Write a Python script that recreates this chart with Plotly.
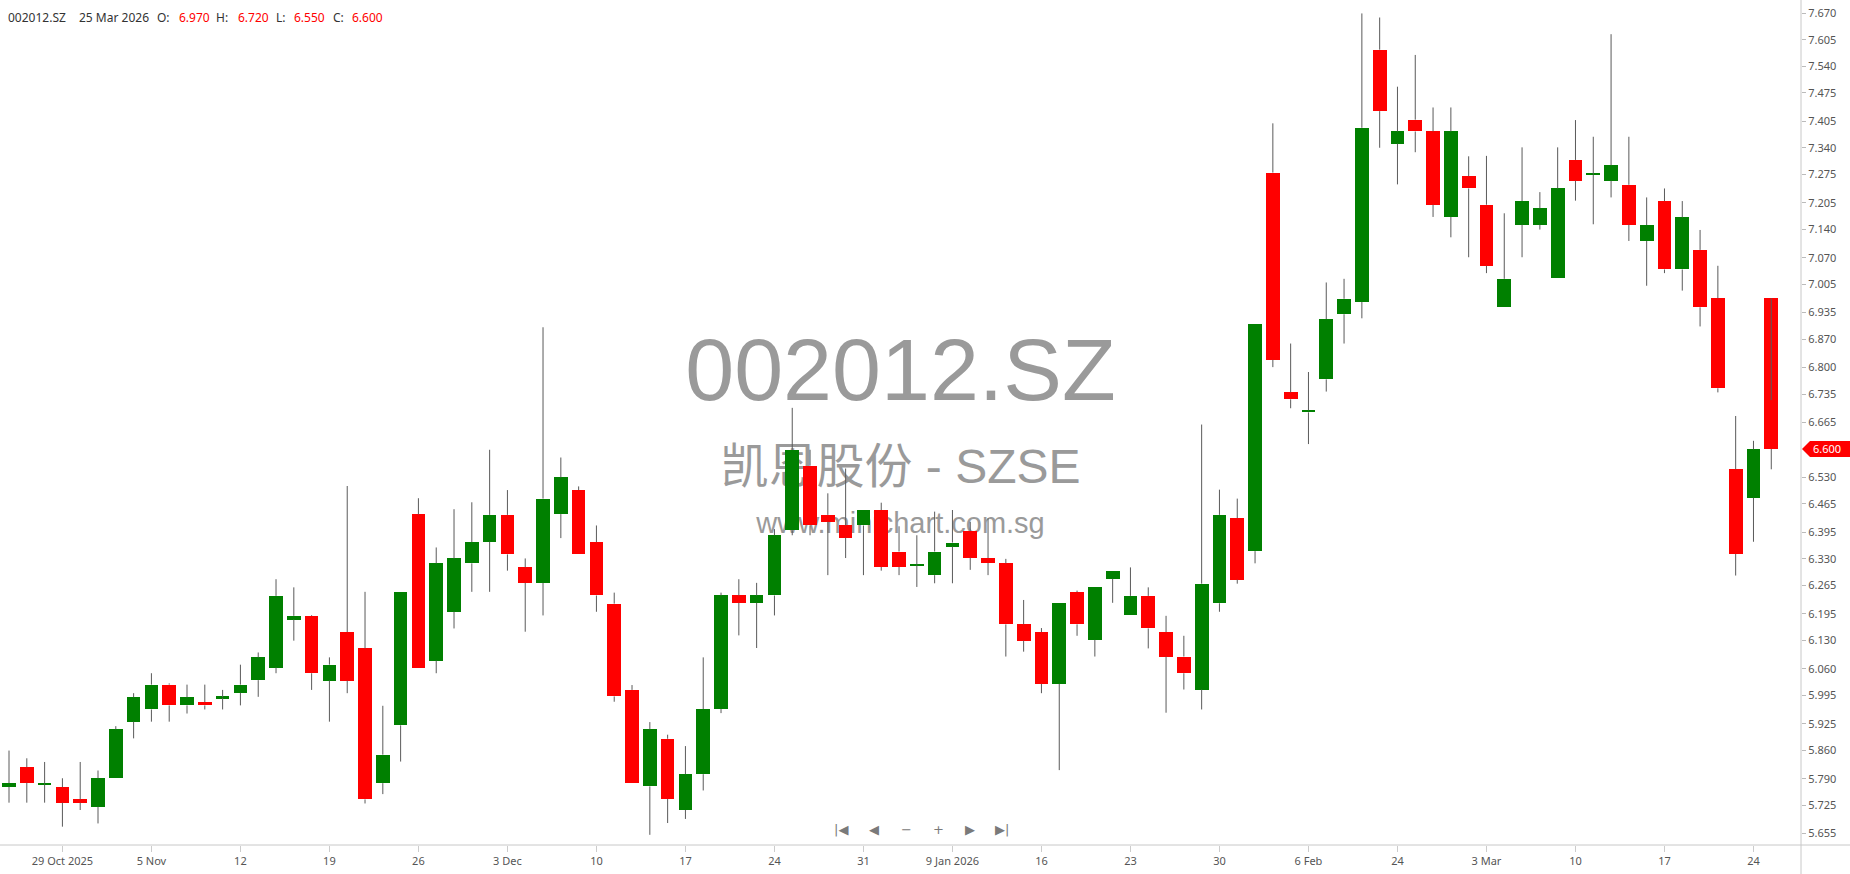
import plotly.graph_objects as go

# daily candles, 24 Oct 2025 .. 25 Mar 2026 (trading days only, x = day index)
open_ = [5.770, 5.818, 5.776, 5.769, 5.739, 5.721, 5.791, 5.930, 5.960, 6.021,
         5.970, 5.978, 5.988, 6.001, 6.032, 6.063, 6.181, 6.190, 6.031, 6.150,
         6.110, 5.779, 5.921, 6.439, 6.080, 6.200, 6.319, 6.372, 6.438, 6.309,
         6.271, 6.440, 6.499, 6.371, 6.220, 6.008, 5.771, 5.888, 5.713, 5.801,
         5.961, 6.240, 6.222, 6.240, 6.400, 6.559, 6.438, 6.412, 6.412, 6.450,
         6.348, 6.314, 6.290, 6.360, 6.399, 6.332, 6.319, 6.169, 6.150, 6.023,
         6.248, 6.131, 6.281, 6.191, 6.239, 6.150, 6.090, 6.009, 6.221, 6.430,
         6.349, 7.279, 6.739, 6.690, 6.771, 6.931, 6.961, 7.581, 7.350, 7.409,
         7.380, 7.170, 7.270, 7.200, 6.948, 7.151, 7.151, 7.019, 7.310, 7.274,
         7.259, 7.249, 7.111, 7.209, 7.041, 7.089, 6.970, 6.550, 6.480, 6.970]
high = [5.859, 5.840, 5.831, 5.791, 5.831, 5.810, 5.919, 6.000, 6.049, 6.024,
        6.021, 6.021, 6.008, 6.070, 6.100, 6.280, 6.260, 6.192, 6.088, 6.509,
        6.249, 5.969, 6.249, 6.479, 6.358, 6.452, 6.469, 6.598, 6.499, 6.331,
        6.899, 6.579, 6.508, 6.412, 6.247, 6.020, 5.929, 5.898, 5.870, 6.088,
        6.247, 6.280, 6.271, 6.403, 6.701, 6.598, 6.491, 6.552, 6.450, 6.468,
        6.410, 6.388, 6.446, 6.450, 6.421, 6.430, 6.330, 6.229, 6.160, 6.221,
        6.252, 6.260, 6.300, 6.309, 6.260, 6.190, 6.141, 6.660, 6.500, 6.478,
        6.908, 7.400, 6.859, 6.789, 7.009, 7.018, 7.670, 7.660, 7.490, 7.568,
        7.439, 7.439, 7.319, 7.320, 7.179, 7.341, 7.231, 7.341, 7.408, 7.367,
        7.619, 7.367, 7.218, 7.240, 7.209, 7.138, 7.050, 6.681, 6.620, 6.720]
low = [5.731, 5.731, 5.731, 5.672, 5.713, 5.680, 5.791, 5.889, 5.930, 5.930,
       5.950, 5.960, 5.960, 5.970, 5.991, 6.049, 6.129, 6.008, 5.930, 6.000,
       5.729, 5.752, 5.832, 6.062, 6.049, 6.159, 6.249, 6.249, 6.301, 6.151,
       6.191, 6.381, 6.341, 6.200, 5.979, 5.780, 5.652, 5.681, 5.691, 5.761,
       5.951, 6.142, 6.111, 6.191, 6.388, 6.388, 6.290, 6.332, 6.290, 6.301,
       6.290, 6.261, 6.270, 6.270, 6.303, 6.290, 6.090, 6.102, 6.000, 5.811,
       6.141, 6.090, 6.222, 6.191, 6.110, 5.952, 6.009, 5.960, 6.200, 6.269,
       6.319, 6.801, 6.700, 6.612, 6.741, 6.859, 6.921, 7.340, 7.250, 7.329,
       7.170, 7.120, 7.071, 7.032, 6.948, 7.071, 7.139, 7.019, 7.210, 7.152,
       7.218, 7.111, 7.001, 7.032, 6.989, 6.901, 6.739, 6.289, 6.372, 6.550]
close = [5.779, 5.780, 5.778, 5.731, 5.731, 5.791, 5.911, 5.990, 6.021, 5.970,
         5.990, 5.970, 5.990, 6.021, 6.088, 6.239, 6.190, 6.049, 6.070, 6.031,
         5.739, 5.849, 6.249, 6.062, 6.319, 6.331, 6.371, 6.438, 6.341, 6.271,
         6.478, 6.530, 6.341, 6.240, 5.992, 5.780, 5.911, 5.740, 5.801, 5.961,
         6.240, 6.222, 6.240, 6.388, 6.598, 6.412, 6.421, 6.382, 6.450, 6.310,
         6.310, 6.316, 6.348, 6.370, 6.333, 6.320, 6.169, 6.129, 6.023, 6.221,
         6.169, 6.260, 6.300, 6.239, 6.159, 6.090, 6.049, 6.269, 6.438, 6.279,
         6.908, 6.819, 6.722, 6.695, 6.919, 6.969, 7.389, 7.430, 7.380, 7.380,
         7.200, 7.380, 7.240, 7.050, 7.018, 7.209, 7.191, 7.240, 7.259, 7.276,
         7.297, 7.151, 7.150, 7.041, 7.169, 6.948, 6.749, 6.342, 6.599, 6.600]

date_tick_pos = [3, 8, 13, 18, 23, 28, 33, 38, 43, 48,
                 53, 58, 63, 68, 73, 78, 83, 88, 93, 98]
date_ticks = ["29 Oct 2025", "5 Nov", "12", "19", "26", "3 Dec", "10", "17", "24", "31",
              "9 Jan 2026", "16", "23", "30", "6 Feb", "24", "3 Mar", "10", "17", "24"]
price_ticks = ["7.670", "7.605", "7.540", "7.475", "7.405", "7.340", "7.275", "7.205",
               "7.140", "7.070", "7.005", "6.935", "6.870", "6.800", "6.735", "6.665",
               "6.530", "6.465", "6.395", "6.330", "6.265", "6.195", "6.130", "6.060",
               "5.995", "5.925", "5.860", "5.790", "5.725", "5.655"]

symbol = "002012.SZ"
name_cn = "凯恩股份 - SZSE"
site = "www.minichart.com.sg"
last_date = "25 Mar 2026"

UP = "#008000"
DOWN = "#ff0000"
WICK = "#5a5a5a"
TXT = "#555555"

x = list(range(len(close)))
body_lo = [min(o, c) for o, c in zip(open_, close)]
body_h = [max(abs(c - o), 0.004) for o, c in zip(open_, close)]
colors = [UP if c >= o else DOWN for o, c in zip(open_, close)]

# wicks: high -> top of body, bottom of body -> low
wx, wy = [], []
for i, (o, h, l, c) in enumerate(zip(open_, high, low, close)):
    wx += [i, i, None, i, i, None]
    wy += [h, max(o, c), None, min(o, c), l, None]

fig = go.Figure()

fig.add_trace(go.Bar(
    x=x, y=body_h, base=body_lo, width=0.77,
    marker=dict(color=colors, line=dict(width=0)),
    hoverinfo="skip"
))

fig.add_trace(go.Scatter(
    x=wx, y=wy, mode="lines",
    line=dict(color=WICK, width=1),
    hoverinfo="skip"
))

# -----------------------------
# watermark (behind the candles)
# -----------------------------
wm_font = "Liberation Sans, Arial, Noto Sans CJK SC, sans-serif"
for txt, yc, size in [(symbol, 0.5716, 88), (name_cn, 0.4544, 48), (site, 0.3846, 29)]:
    fig.add_shape(
        type="rect", xref="paper", yref="paper",
        x0=0.30, x1=0.70, y0=yc - 0.04, y1=yc + 0.04,
        line=dict(width=0), fillcolor="rgba(0,0,0,0)", layer="below",
        label=dict(text=txt, textposition="middle center",
                   font=dict(size=size, color="#9a9a9a", family=wm_font))
    )

# -----------------------------
# header line (top-left)
# -----------------------------
hdr_font = "Noto Sans, Open Sans, sans-serif"
header = [
    (symbol, 6, "#333333"),
    (last_date, 77, "#333333"),
    ("O:", 155, "#333333"), (f"{open_[-1]:.3f}", 177, DOWN),
    ("H:", 214, "#333333"), (f"{high[-1]:.3f}", 236, DOWN),
    ("L:", 274, "#333333"), (f"{low[-1]:.3f}", 292, DOWN),
    ("C:", 331, "#333333"), (f"{close[-1]:.3f}", 350, DOWN),
]
for txt, px, col in header:
    fig.add_annotation(
        text=txt, xref="paper", yref="paper", x=0, y=1,
        xanchor="left", yanchor="middle", xshift=px, yshift=-17,
        showarrow=False, font=dict(size=12, color=col, family=hdr_font)
    )

# -----------------------------
# last price marker on the price axis
# -----------------------------
fig.add_shape(
    type="path", xref="paper", yref="y",
    xsizemode="pixel", ysizemode="pixel", xanchor=1, yanchor=close[-1],
    path="M1,0 L9,8 L49,8 L49,-8 L9,-8 Z",
    fillcolor=DOWN, line=dict(width=0), layer="above"
)
fig.add_annotation(
    text=f"{close[-1]:.3f}", xref="paper", yref="y", x=1, y=close[-1],
    xanchor="left", yanchor="middle", xshift=10, showarrow=False,
    font=dict(size=11, color="white", family=hdr_font)
)

# -----------------------------
# navigation buttons (bottom centre)
# -----------------------------
for txt, px in [("|◀", 841), ("◀", 874), ("−", 906), ("+", 938), ("▶", 970), ("▶|", 1002)]:
    fig.add_annotation(
        text=txt, xref="paper", yref="paper", x=0, y=0,
        xanchor="center", yanchor="middle", xshift=px, yshift=16,
        showarrow=False, font=dict(size=13, color="#7a7a7a", family="DejaVu Sans")
    )

# axis frame lines (extend under the label strips like the original)
fig.add_shape(type="line", xref="paper", yref="paper", x0=0, x1=1850 / 1801, y0=0, y1=0,
              line=dict(color="#c8c8c8", width=1), layer="above")
fig.add_shape(type="line", xref="paper", yref="paper", x0=1, x1=1, y0=-29 / 845, y1=1,
              line=dict(color="#c8c8c8", width=1), layer="above")

fig.update_layout(
    width=1850, height=874,
    margin=dict(l=0, r=49, t=0, b=29),
    plot_bgcolor="white", paper_bgcolor="white",
    showlegend=False, hovermode=False, bargap=0,
    xaxis=dict(
        range=[-0.506, 100.67], tickmode="array",
        tickvals=date_tick_pos, ticktext=date_ticks,
        ticks="outside", ticklen=6, tickcolor="#cccccc",
        showgrid=False, zeroline=False, showline=False,
        tickfont=dict(size=11, color=TXT, family=hdr_font)
    ),
    yaxis=dict(
        side="right", range=[5.627, 7.703], tickmode="array",
        tickvals=[float(t) for t in price_ticks], ticktext=price_ticks,
        ticks="outside", ticklen=4, tickcolor="#bbbbbb",
        showgrid=False, zeroline=False, showline=False,
        tickfont=dict(size=11, color=TXT, family=hdr_font)
    ),
)

fig.write_html("out.html", config={"displayModeBar": False},
               post_script="document.body.style.margin='0';document.body.style.overflow='hidden';")
